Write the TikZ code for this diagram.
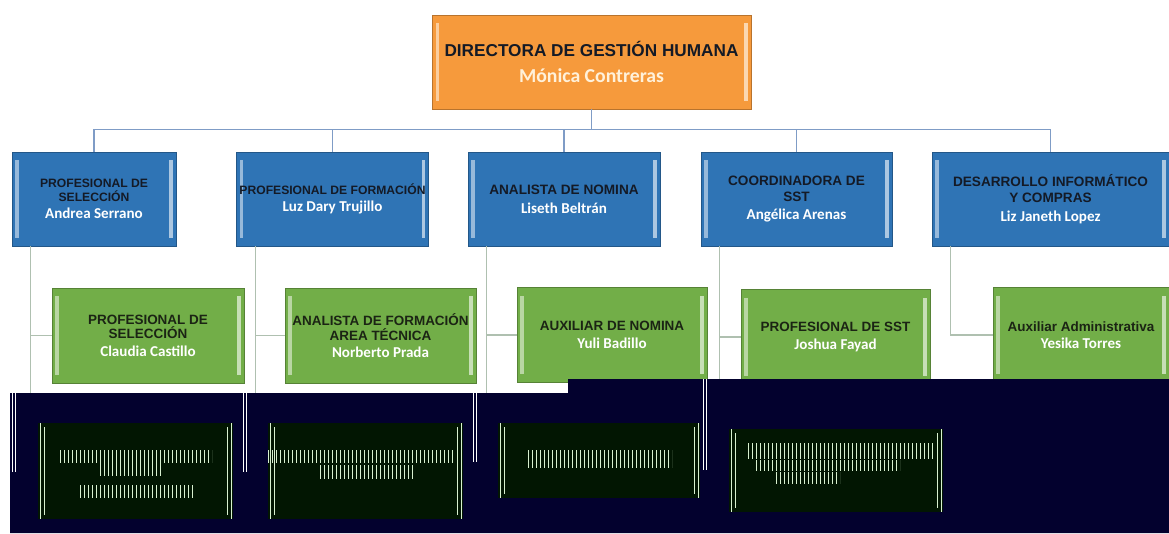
\documentclass[tikz,border=0pt]{standalone}
\usepackage{fontspec}
\setmainfont{Liberation Sans}
\newfontfamily\namefont{Carlito}
\usetikzlibrary{patterns}
\definecolor{chieforange}{HTML}{F69A3C}
\definecolor{chiefname}{HTML}{FFF1DA}
\definecolor{headblue}{HTML}{2F74B5}
\definecolor{staffgreen}{HTML}{72AE48}
\definecolor{inkdark}{HTML}{141A26}
\definecolor{inkstaff}{HTML}{1B2414}
\definecolor{linkblue}{HTML}{7F9CC6}
\definecolor{linkgreen}{HTML}{AFC0B0}
\definecolor{nightbg}{HTML}{03012E}
\definecolor{nightbox}{HTML}{021602}
\definecolor{glitch}{HTML}{D8F0D0}
\tikzset{
  bevel/.style={draw=#1!75!black, fill=#1, line width=.5pt, align=center, inner sep=2pt,
    path picture={
      \fill[#1!50!white] ([shift={(2.5pt,6pt)}]path picture bounding box.south west) rectangle ([shift={(5pt,-6pt)}]path picture bounding box.north west);
      \fill[#1!40!white] ([shift={(-2.5pt,6pt)}]path picture bounding box.south east) rectangle ([shift={(-5pt,-6pt)}]path picture bounding box.north east);
    }},
  chief/.style={bevel=chieforange, minimum width=239pt, minimum height=70.5pt, text=inkdark, font=\bfseries\fontsize{12.9}{15}\selectfont},
  head/.style={bevel=headblue, minimum width=#1, minimum height=70.5pt, text=inkdark, font=\bfseries\fontsize{10.2}{12}\selectfont},
  small/.style={font=\bfseries\fontsize{9.1}{10.5}\selectfont},
  staff/.style={bevel=staffgreen, minimum width=#1, minimum height=71pt, text=inkstaff, font=\bfseries\fontsize{10.1}{11}\selectfont},
  link/.style={draw=linkblue, line width=.9pt},
  twig/.style={draw=linkgreen, line width=.9pt},
}
\newcommand{\who}[1]{\\[2pt]{\namefont\fontsize{11.3}{13}\selectfont\color{white}#1}}

\begin{document}
\begin{tikzpicture}[x=.75pt, y=-.75pt]
    \useasboundingbox (0,0) rectangle (1169,534);
    % director
    \node[chief] (dir) at (591.5,62) {DIRECTORA DE GESTIÓN HUMANA\\[5pt]{\namefont\fontsize{14.8}{16}\selectfont\color{chiefname}Mónica Contreras}};
    % heads
    \node[head=123pt, small] (h1) at (94,199) {PROFESIONAL DE\\SELECCIÓN\who{Andrea Serrano}};
    \node[head=143.25pt, small] (h2) at (332.5,199) {PROFESIONAL DE FORMACIÓN\who{Luz Dary Trujillo}};
    \node[head=144pt] (h3) at (564,199) {ANALISTA DE NOMINA\who{Liseth Beltrán}};
    \node[head=143.25pt] (h4) at (796.5,199) {COORDINADORA DE\\SST\who{Angélica Arenas}};
    \node[head=177.75pt] (h5) at (1050.5,199) {DESARROLLO INFORMÁTICO\\Y COMPRAS\who{Liz Janeth Lopez}};
    % staff
    \node[staff=144pt] (s1) at (148,335.5) {PROFESIONAL DE\\SELECCIÓN\who{Claudia Castillo}};
    \node[staff=143.25pt] (s2) at (380.5,335.5) {ANALISTA DE FORMACIÓN\\AREA TÉCNICA\who{Norberto Prada}};
    \node[staff=142.5pt] (s3) at (612,335) {AUXILIAR DE NOMINA\who{Yuli Badillo}};
    \node[staff=141.75pt] (s4) at (835.5,337) {PROFESIONAL DE SST\who{Joshua Fayad}};
    \node[staff=132pt] (s5) at (1081,335) {Auxiliar Administrativa\who{Yesika Torres}};
    % connectors
    \foreach \i in {1,...,5} \draw[link] (dir.south) -- ++(0,20) -| (h\i.north);
    \foreach \i in {1,...,5} \draw[twig] ([xshift=14pt]h\i.south west) |- (s\i.west);
    \foreach \i in {1,...,4} \draw[twig] ([xshift=14pt]h\i.south west) -- ++(0,150);
    % garbled lower band
    \fill[nightbg] (10,393) -- (568,393) -- (568,379) -- (1169,379) -- (1169,533) -- (10,533) -- cycle;
    \foreach \x/\ya/\yb in {12/393/472, 243/393/472, 473/393/462, 703/379/470}
        \draw[white, line width=.6pt] (\x,\ya) -- (\x,\yb) (\x+3,\ya) -- (\x+3,\yb);
    \foreach \xa/\ya/\xb/\yb in {38/423/233/519, 268/423/463/519, 498/423/700/498, 729/429/943/512}{
        \fill[nightbox] (\xa,\ya) rectangle (\xb,\yb);
        \draw[glitch, line width=.6pt] (\xa+2,\ya) -- (\xa+2,\yb) (\xa+6,\ya+4) -- (\xa+6,\yb-4)
            (\xb-2,\ya) -- (\xb-2,\yb) (\xb-6,\ya+4) -- (\xb-6,\yb-4);
    }
    \foreach \xa/\ya/\xb/\yb in {60/450/212/462, 100/463/163/475, 78/485/195/497, 268/450/455/462, 317/465/415/478, 525/450/672/467, 745/443/935/458, 755/460/900/470, 775/472/840/483}
        \fill[pattern=vertical lines, pattern color=glitch] (\xa,\ya) rectangle (\xb,\yb);
\end{tikzpicture}
\end{document}
